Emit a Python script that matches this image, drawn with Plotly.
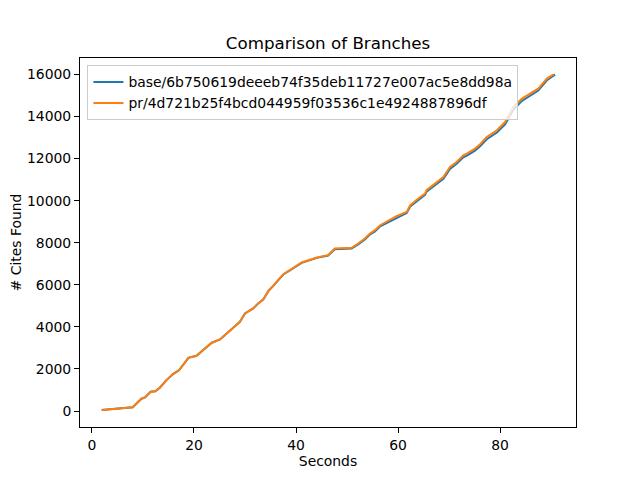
import plotly.graph_objects as go

# run timings (seconds) and cumulative cites found
base_label = "base/6b750619deeeb74f35deb11727e007ac5e8dd98a"
base_secs = [1.9, 8.0, 9.7, 10.4, 11.5, 12.4, 13.3, 14.6, 15.9, 17.1, 18.9, 20.5,
             21.8, 23.5, 25.1, 26.4, 29.0, 29.4, 30.0, 31.6, 32.6, 33.6, 34.6, 35.5,
             37.5, 38.8, 41.1, 44.1, 46.3, 47.6, 50.9, 52.2, 53.5, 54.5, 55.5, 56.5,
             58.4, 59.7, 61.7, 62.4, 64.0, 65.3, 65.6, 67.0, 68.9, 70.2, 71.5, 72.8,
             73.5, 75.1, 76.1, 77.4, 79.4, 81.0, 82.6, 84.3, 85.9, 87.5, 89.2, 90.8]
base_cites = [50, 175, 585, 650, 915, 935, 1105, 1470, 1755, 1945, 2530, 2625,
              2895, 3245, 3400, 3690, 4240, 4400, 4640, 4875, 5115, 5305, 5710, 5935,
              6490, 6680, 7040, 7280, 7390, 7690, 7720, 7920, 8150, 8390, 8540, 8780,
              9010, 9200, 9410, 9720, 10030, 10270, 10420, 10700, 11040, 11510, 11750, 12060,
              12140, 12380, 12580, 12920, 13240, 13620, 14320, 14740, 14990, 15230, 15720, 15990]

pr_label = "pr/4d721b25f4bcd044959f03536c1e4924887896df"
pr_secs = [1.9, 8.0, 9.7, 10.4, 11.5, 12.4, 13.3, 14.6, 15.9, 17.1, 18.9, 20.5,
           21.8, 23.5, 25.1, 26.4, 29.0, 29.4, 30.0, 31.6, 32.6, 33.6, 34.6, 35.5,
           37.5, 38.8, 41.1, 44.1, 46.3, 47.6, 50.9, 52.2, 53.5, 54.5, 55.5, 56.5,
           58.4, 59.7, 61.7, 62.4, 64.0, 65.3, 65.6, 67.0, 68.9, 70.2, 71.5, 72.8,
           73.5, 75.1, 76.1, 77.4, 79.4, 81.0, 82.6, 84.3, 85.9, 87.5, 89.2, 90.5]
pr_cites = [50, 175, 585, 650, 915, 935, 1105, 1470, 1755, 1945, 2530, 2625,
            2895, 3245, 3400, 3690, 4240, 4400, 4640, 4875, 5115, 5305, 5710, 5935,
            6505, 6695, 7060, 7300, 7410, 7725, 7755, 7960, 8200, 8440, 8595, 8830,
            9070, 9260, 9465, 9780, 10100, 10335, 10495, 10780, 11125, 11600, 11840, 12155,
            12235, 12475, 12680, 13025, 13345, 13735, 14450, 14850, 15085, 15320, 15800, 16000]

x_ticks = [0, 20, 40, 60, 80]
y_ticks = [0, 2000, 4000, 6000, 8000, 10000, 12000, 14000, 16000]

fig = go.Figure()
fig.add_trace(go.Scatter(x=base_secs, y=base_cites, mode="lines", name=base_label,
                         line=dict(color="#1f77b4", width=2)))
fig.add_trace(go.Scatter(x=pr_secs, y=pr_cites, mode="lines", name=pr_label,
                         line=dict(color="#ff7f0e", width=2)))

axis_style = dict(showline=True, linecolor="black", linewidth=1, mirror=True,
                  ticks="outside", ticklen=5, tickcolor="black", showgrid=False,
                  zeroline=False, tickfont=dict(size=13.9), automargin=False)

fig.update_xaxes(range=[-2.35, 94.9], tickvals=x_ticks, tickformat="d",
                 title=dict(text="Seconds", font=dict(size=13.9), standoff=4), **axis_style)
fig.update_yaxes(range=[-760, 16780], tickvals=y_ticks, tickformat="d",
                 title=dict(text="# Cites Found", font=dict(size=13.9), standoff=8), **axis_style)

# the page adds an 8px body margin, so the margins below are trimmed by that much
fig.update_layout(
    width=640, height=480,
    margin=dict(l=72, r=72, t=50, b=61),
    paper_bgcolor="white", plot_bgcolor="white",
    font=dict(family="DejaVu Sans", color="black", size=13.9),
    title=dict(text="Comparison of Branches", x=0.5, xref="paper",
               y=1 - 35 / 480, yref="container", yanchor="middle",
               font=dict(size=16.7)),
    legend=dict(x=0.015, y=0.98, xanchor="left", yanchor="top",
                bgcolor="rgba(255,255,255,0.8)", bordercolor="#cccccc", borderwidth=1,
                font=dict(size=13.9), tracegroupgap=0),
    showlegend=True,
)

fig.write_html("out.html")
